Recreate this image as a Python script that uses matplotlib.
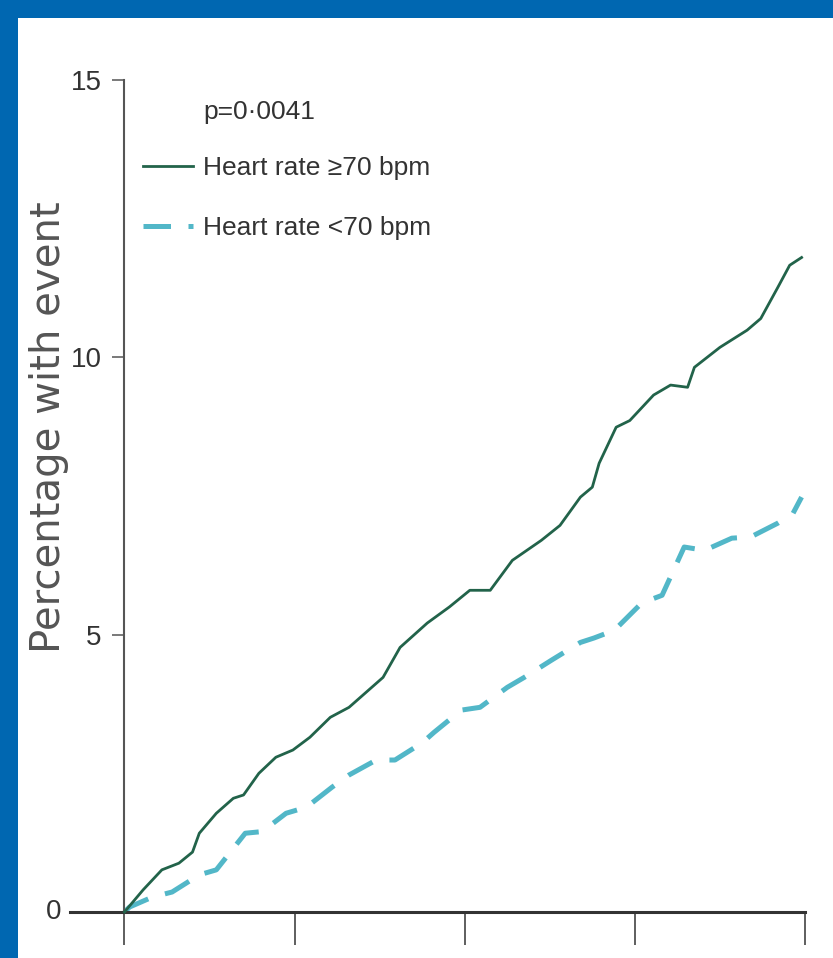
import matplotlib
matplotlib.use("Agg")
import matplotlib.pyplot as plt
from matplotlib.patches import Rectangle

# cumulative event curves (years of follow-up vs % with event)
t_high = [0, 0.11, 0.22, 0.32, 0.40, 0.44, 0.54, 0.64, 0.70, 0.79, 0.89, 0.99,
          1.09, 1.21, 1.32, 1.52, 1.62, 1.78, 1.91, 2.03, 2.15, 2.28, 2.45, 2.56,
          2.68, 2.75, 2.79, 2.89, 2.97, 3.11, 3.21, 3.31, 3.35, 3.50, 3.66, 3.74,
          3.84, 3.91, 3.98]
pct_high = [0, 0.40, 0.76, 0.88, 1.08, 1.42, 1.78, 2.05, 2.11, 2.50, 2.79, 2.92,
            3.15, 3.51, 3.69, 4.23, 4.77, 5.21, 5.50, 5.80, 5.80, 6.34, 6.70, 6.97,
            7.48, 7.66, 8.09, 8.74, 8.86, 9.32, 9.50, 9.46, 9.82, 10.18, 10.49, 10.70,
            11.26, 11.66, 11.80]

t_low = [0, 0.03, 0.165, 0.28, 0.44, 0.54, 0.71, 0.81, 0.95, 1.07, 1.22, 1.32,
         1.48, 1.59, 1.75, 1.82, 1.98, 2.09, 2.25, 2.35, 2.51, 2.68, 2.76, 2.88,
         3.04, 3.16, 3.29, 3.41, 3.57, 3.68, 3.84, 3.93, 3.98]
pct_low = [0, 0.09, 0.27, 0.36, 0.67, 0.76, 1.42, 1.45, 1.78, 1.89, 2.25, 2.47,
           2.74, 2.74, 3.05, 3.24, 3.64, 3.69, 4.05, 4.23, 4.54, 4.86, 4.94, 5.08,
           5.57, 5.71, 6.58, 6.52, 6.74, 6.76, 7.01, 7.19, 7.48]

x_ticks = [0, 1, 2, 3, 4]
y_ticks = [0, 5, 10, 15]
p_text = "p=0\u00b70041"
label_high = "Heart rate \u226570 bpm"
label_low = "Heart rate <70 bpm"
y_title = "Percentage with event"

narrow = ["Liberation Sans", "DejaVu Sans"]
green = "#22634a"
cyan = "#52b7c8"
fs = 19

fig = plt.figure(figsize=(8.33, 9.58), dpi=100)
fig.patch.set_facecolor("#0067b1")
# white slide panel
fig.add_artist(Rectangle((18 / 833, 0), 1, 1 - 18 / 958, transform=fig.transFigure,
                         facecolor="white", edgecolor="none", zorder=0))

ax = fig.add_axes([70 / 833, 46 / 958, 735 / 833, 832 / 958])
ax.set_facecolor("none")

ax.plot(t_high, pct_high, color=green, lw=2.0, label=label_high, clip_on=False, zorder=3)
ax.plot(t_low, pct_low, color=cyan, lw=3.6, dashes=(5.5, 3.5), label=label_low,
        clip_on=False, zorder=2)

ax.set_xlim(-0.32, 4.0)
ax.set_ylim(0, 15)

for s in ["top", "right"]:
    ax.spines[s].set_visible(False)
ax.spines["left"].set_position(("data", 0))
ax.spines["left"].set_color("#555555")
ax.spines["left"].set_linewidth(1.5)
ax.spines["bottom"].set_color("#333333")
ax.spines["bottom"].set_linewidth(2.2)

ax.set_xticks(x_ticks)
ax.set_xticklabels([])
ax.tick_params(axis="x", direction="out", length=24, width=1.1, color="#333333")

ax.set_yticks(y_ticks)
ax.set_yticklabels([""] + [str(v) for v in y_ticks[1:]], family=narrow,
                   fontsize=20, color="#333333")
ax.tick_params(axis="y", direction="out", length=8.6, width=1.1, color="#555555", pad=8)
# the zero label sits left of the extended x axis
ax.text(-0.37, 0, "0", ha="right", va="center", family=narrow, fontsize=20,
        color="#333333", transform=ax.transData)

fig.text(49 / 833, 1 - 427 / 958, y_title, rotation=90, ha="center", va="center",
         fontsize=29, color="#555555", family="DejaVu Sans")

fig.text(203 / 833, 1 - 112 / 958, p_text, ha="left", va="center", family=narrow,
         fontsize=fs, color="#333333")
leg = ax.legend(loc="upper left", bbox_to_anchor=(143 / 833, 1 - 156 / 958),
                bbox_transform=fig.transFigure, frameon=False, borderpad=0,
                borderaxespad=0, handlelength=1.9, handletextpad=0.38,
                labelspacing=1.38, prop={"family": narrow, "size": fs})
for txt in leg.get_texts():
    txt.set_color("#333333")

fig.savefig("out.png", dpi=100, facecolor=fig.get_facecolor())
